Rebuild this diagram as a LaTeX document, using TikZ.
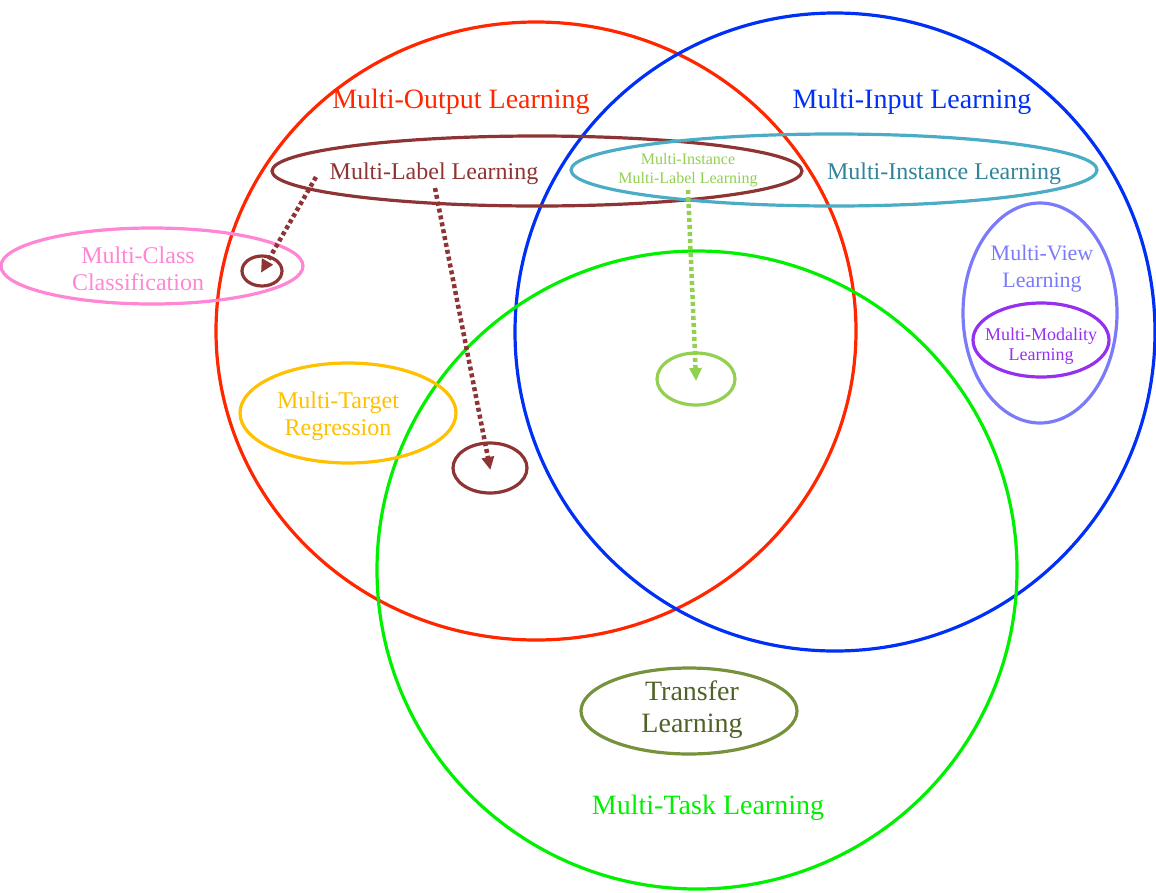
\documentclass[tikz,border=0pt]{standalone}
\usepackage{fontspec}
\setmainfont{Liberation Serif}
\usetikzlibrary{arrows.meta,shapes.geometric,positioning}

\definecolor{outred}{RGB}{255,38,0}
\definecolor{inblue}{RGB}{0,48,245}
\definecolor{taskgreen}{RGB}{0,240,0}
\definecolor{mlbrown}{RGB}{142,52,52}
\definecolor{miring}{RGB}{75,172,198}
\definecolor{mitext}{RGB}{49,133,155}
\definecolor{mcpink}{RGB}{255,134,212}
\definecolor{mtorange}{RGB}{255,192,0}
\definecolor{mvblue}{RGB}{122,122,250}
\definecolor{mmpurple}{RGB}{150,48,240}
\definecolor{tlring}{RGB}{118,146,60}
\definecolor{tltext}{RGB}{79,98,40}
\definecolor{mimlgreen}{RGB}{146,208,80}

\tikzset{
  ring/.style={ellipse,draw,line width=3.2pt,inner sep=0pt,minimum width=#1},
  lbl/.style={align=center,inner sep=0pt},
  dotarrow/.style={line width=4.5pt,dash pattern=on 4pt off 3pt,-{Triangle[length=13pt,width=12pt]},shorten >=-2pt}
}

\begin{document}
\begin{tikzpicture}[x=1pt,y=-1pt]
\useasboundingbox (0,0) rectangle (1156,892);

% the three big sets
\node[ring=640pt,minimum height=618pt,outred]   (mol)  at (536,331) {};
\node[ring=640pt,minimum height=638pt,inblue]   (mil)  at (835,332) {};
\node[ring=640pt,minimum height=638pt,taskgreen] (mtl) at (697,570) {};

% smaller sets
\node[ring=530pt,minimum height=70pt,mlbrown]   (mll)  at (537,171) {};
\node[ring=526pt,minimum height=72pt,miring]    (mins) at (834,170) {};
\node[ring=302pt,minimum height=76pt,mcpink]    (mcc)  at (152,266) {};
\node[ring=40pt,minimum height=30pt,mlbrown]    (mcin) at (262,271) {};
\node[ring=216pt,minimum height=100pt,mtorange] (mtr)  at (348,413) {};
\node[ring=74pt,minimum height=50pt,mlbrown]    (mtin) at (490,468) {};
\node[ring=78pt,minimum height=52pt,mimlgreen]  (miml) at (696,379) {};
\node[ring=154pt,minimum height=220pt,mvblue]   (mvl)  at (1040,313) {};
\node[ring=136pt,minimum height=74pt,mmpurple]  (mml)  at (1041,340) {};
\node[ring=216pt,minimum height=86pt,tlring]    (tl)   at (689,711) {};

% labels
\node[lbl,outred,font=\fontsize{28}{32}\selectfont]    (molt)  at (461,102) {Multi-Output Learning};
\node[lbl,inblue,font=\fontsize{28}{32}\selectfont]    (milt)  at (912,102) {Multi-Input Learning};
\node[lbl,mlbrown,font=\fontsize{24}{27}\selectfont]   (mllt)  at (434,174) {Multi-Label Learning};
\node[lbl,mimlgreen,font=\fontsize{16}{19}\selectfont] (mimlt) at (688,170) {Multi-Instance\\Multi-Label Learning};
\node[lbl,mitext,font=\fontsize{24}{27}\selectfont]    (minst) at (944,174) {Multi-Instance Learning};
\node[lbl,mcpink,font=\fontsize{24}{27}\selectfont]    (mcct)  at (138,269) {Multi-Class\\Classification};
\node[lbl,mtorange,font=\fontsize{24}{27}\selectfont]  (mtrt)  at (338,416) {Multi-Target\\Regression};
\node[lbl,mvblue,font=\fontsize{22}{27}\selectfont]    (mvlt)  at (1042,269) {Multi-View\\Learning};
\node[lbl,mmpurple,font=\fontsize{18}{20}\selectfont]  (mmlt)  at (1041,346) {Multi-Modality\\Learning};
\node[lbl,tltext,font=\fontsize{28}{32}\selectfont]    (tlt)   at (692,710) {Transfer\\Learning};
\node[lbl,taskgreen,font=\fontsize{28}{32}\selectfont] (mtlt)  at (708,808) {Multi-Task Learning};

% arrows
\coordinate (s1) at (316,177);
\coordinate (s2) at (435,188);
\coordinate (s3) at (688,190);
\draw[dotarrow,mlbrown]   (s1) -- (mcin.center);
\draw[dotarrow,mlbrown]   (s2) -- (mtin.center);
\draw[dotarrow,mimlgreen] (s3) -- (miml.center);
\end{tikzpicture}
\end{document}
